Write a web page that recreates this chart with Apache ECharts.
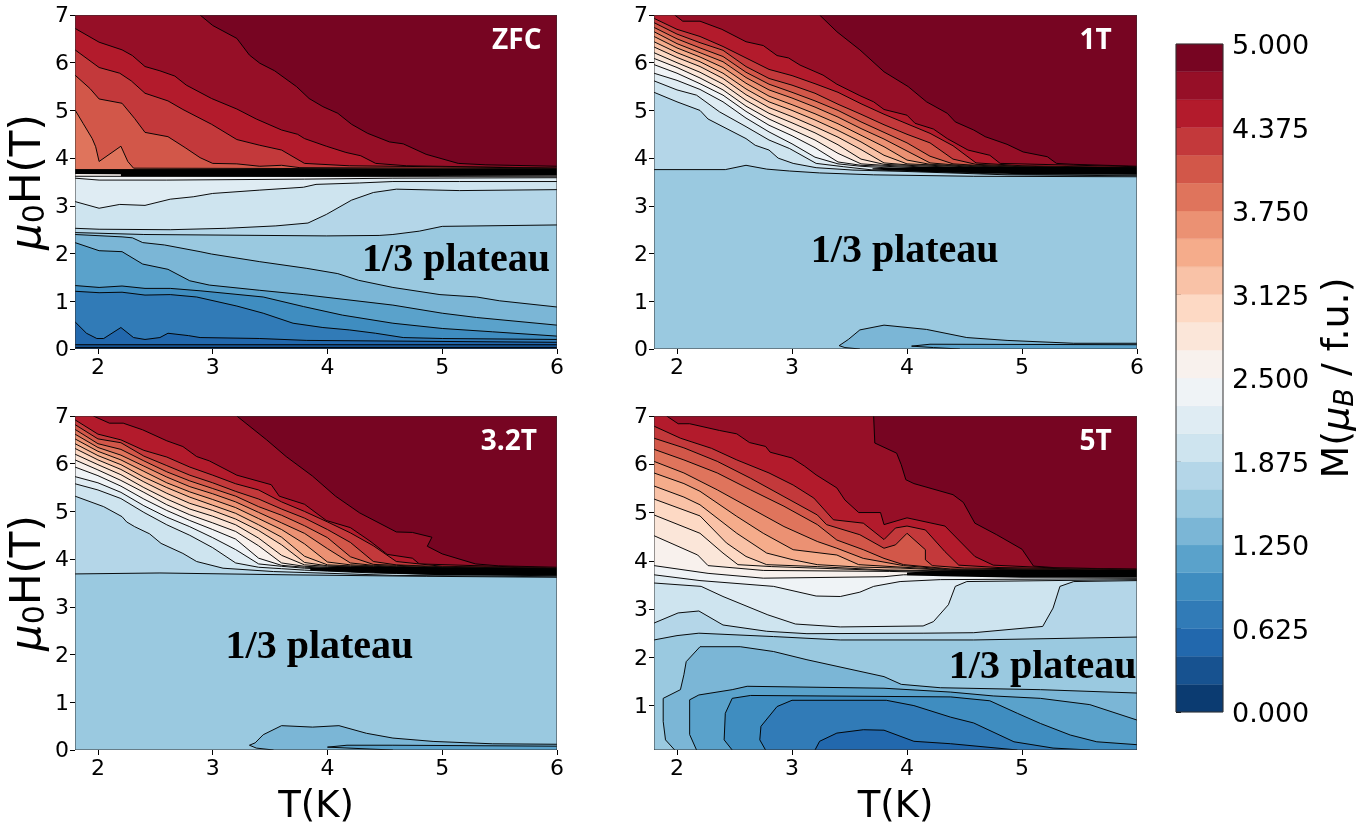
<!DOCTYPE html>
<html>
<head>
<meta charset="utf-8">
<style>html,body{margin:0;padding:0;background:#fff}#c{width:1370px;height:823px}</style>
<script src="https://cdn.jsdelivr.net/npm/echarts@6/dist/echarts.min.js"></script>
</head>
<body>
<div id="c"></div>
<script>
// ---------- data: [level, [[T, H], ...]] ----------
const levelCount = 24;
const xTicks = [2, 3, 4, 5, 6];
const xTicks5T = [2, 3, 4, 5];
const yTicks = [0, 1, 2, 3, 4, 5, 6, 7];
const yTicks5T = [1, 2, 3, 4, 5, 6, 7];
const panelNames = ['ZFC', '1T', '3.2T', '5T'];
const plateauText = '1/3 plateau';
const namePos = [[5.65, 6.46], [5.64, 6.46], [5.58, 6.46], [5.64, 6.46]];
const plateauPos = [[5.12, 1.85], [3.98, 2.03], [3.93, 2.15], [5.18, 1.79]];

const fanT = [1.8, 2, 2.2, 2.4, 2.6, 2.8, 3, 3.2, 3.4, 3.6, 3.8, 4, 4.2, 4.4, 4.6, 5, 6];

// where the contour lines crowd so tightly that they merge into solid black
const zfcCrowd = [[1.8,3.76],[6,3.78],[6,3.63],[3.6,3.62],[2.2,3.62],[2.2,3.66],[1.8,3.67]];
const oneTCrowd = [[3.7,3.79],[4.2,3.82],[5,3.82],[6,3.81],[6,3.65],[5,3.66],[4.2,3.71],[3.7,3.76]];
const threeTCrowd = [[3.85,3.82],[4.3,3.85],[5,3.83],[6,3.81],[6,3.65],[5,3.66],[4.3,3.72],[3.85,3.76]];
const fiveTCrowd = [[4,3.76],[4.3,3.8],[5,3.82],[6,3.81],[6,3.65],[5,3.65],[4.3,3.68],[4,3.7]];

const zfcContours = [
 [23, [[2.89,7],[3,6.78],[3.21,6.51],[3.32,6.16],[3.41,5.99],[3.54,5.83],[3.73,5.5],[3.84,5.25],[3.96,5.08],[4.09,4.94],[4.21,4.71],[4.35,4.52],[4.54,4.34],[4.66,4.3],[4.86,4.08],[5.14,3.89],[5.38,3.86],[6,3.83]]],
 [22, [[1.8,6.72],[2.01,6.43],[2.21,6.27],[2.3,6.15],[2.41,5.92],[2.54,5.83],[2.67,5.72],[2.77,5.53],[2.99,5.25],[3.21,5.03],[3.38,4.82],[3.6,4.59],[3.74,4.5],[3.8,4.41],[3.99,4.25],[4.16,4.12],[4.29,4.05],[4.42,3.89],[4.69,3.84],[6,3.79]]],
 [21, [[1.8,6.27],[2.01,5.9],[2.19,5.78],[2.29,5.62],[2.41,5.36],[2.61,5.2],[2.74,5.02],[2.99,4.71],[3.21,4.39],[3.41,4.27],[3.6,4.17],[3.8,3.89],[4.19,3.84],[6,3.79]]],
 [20, [[1.8,5.74],[1.93,5.46],[2.01,5.24],[2.21,5.15],[2.32,4.83],[2.41,4.54],[2.61,4.45],[2.76,4.22],[2.89,4.01],[3,3.89],[3.21,3.88],[3.41,3.83],[3.6,3.85],[3.76,3.8],[6,3.78]]],
 [19, [[1.8,5.01],[1.87,4.73],[1.95,4.41],[1.98,4.24],[2.01,3.93],[2.2,4.25],[2.26,3.93],[2.31,3.79],[6,3.77]]],
 [18, [[1.8,3.76],[6,3.76]]],
 [17, [[1.8,3.75],[6,3.75]]],
 [16, [[1.8,3.74],[6,3.74]]],
 [15, [[1.8,3.72],[6,3.72]]],
 [14, [[1.8,3.7],[6,3.7]]],
 [13, [[1.8,3.68],[6,3.68]]],
 [12, [[1.8,3.62],[6,3.61]]],
 [11, [[1.8,3.58],[2.01,3.54],[2.6,3.54],[3.8,3.56],[4.57,3.58],[6,3.59]]],
 [10, [[1.8,3.09],[2.01,2.95],[2.19,3.03],[2.41,3.01],[2.63,3.14],[2.83,3.19],[3,3.26],[3.41,3.33],[3.79,3.39],[3.9,3.45],[4.28,3.48],[4.57,3.51],[5.15,3.51],[6,3.51]]],
 [9, [[1.8,2.53],[2.01,2.51],[2.63,2.5],[3.12,2.53],[3.55,2.58],[3.83,2.64],[3.99,2.82],[4.21,3.12],[4.4,3.28],[4.6,3.35],[5.15,3.32],[6,3.34]]],
 [8, [[1.8,2.44],[2.4,2.4],[3.99,2.37],[4.45,2.38],[4.57,2.4],[4.8,2.47],[5,2.57],[6,2.6]]],
 [7, [[1.8,2.4],[2.21,2.35],[2.3,2.33],[2.39,2.23],[2.58,2.18],[2.89,2.04],[2.99,1.99],[3.41,1.83],[3.82,1.69],[4.09,1.58],[4.27,1.44],[4.57,1.29],[4.98,1.14],[5.3,1.09],[5.5,1.01],[6,0.88]]],
 [6, [[1.8,2.23],[2.01,2.06],[2.21,2.04],[2.39,1.78],[2.61,1.67],[2.8,1.43],[2.97,1.34],[3.41,1.23],[3.79,1.14],[4.57,0.92],[5,0.75],[5.3,0.66],[6,0.5]]],
 [5, [[1.8,1.33],[2.01,1.29],[2.21,1.32],[2.41,1.27],[2.63,1.27],[2.89,1.22],[3.44,1.09],[3.79,0.89],[4.13,0.71],[4.57,0.54],[5,0.43],[5.44,0.36],[6,0.27]]],
 [4, [[1.8,1.21],[2.01,1.18],[2.21,1.19],[2.41,1.13],[2.63,1.14],[2.86,1.09],[3.21,0.9],[3.44,0.75],[3.7,0.54],[3.96,0.45],[4.19,0.4],[4.42,0.33],[4.66,0.24],[5,0.22],[6,0.2]]],
 [3, [[1.8,0.57],[1.9,0.33],[1.99,0.22],[2.05,0.22],[2.2,0.45],[2.31,0.24],[2.41,0.2],[2.54,0.24],[2.61,0.33],[2.79,0.28],[2.89,0.24],[3.41,0.22],[3.82,0.18],[6,0.14]]],
 [2, [[1.8,0.09],[6,0.09]]],
 [1, [[1.8,0.03],[6,0.03]]]
];

const oneTEdges = [
 [23, [[3.24,7],[3.39,6.65],[3.59,6.27],[3.8,5.81],[4.01,5.5],[4.17,5.18],[4.35,4.94],[4.42,4.76],[4.58,4.59],[4.68,4.45],[4.87,4.29],[5.01,4.13],[5.22,4.03],[5.3,3.89],[5.45,3.87],[6,3.83]]],
 [22, [[1.98,7],[2.05,6.87],[2.2,6.87],[2.39,6.7],[2.6,6.44],[2.75,6.36],[2.87,6.15],[2.97,6.1],[3.07,5.95],[3.27,5.74],[3.39,5.55],[3.59,5.31],[3.71,5.18],[3.8,5.02],[4,4.9],[4.07,4.73],[4.23,4.61],[4.35,4.41],[4.53,4.17],[4.72,4.06],[4.81,3.89],[6,3.82]]]
];
const oneTFan = [
 [21, [6.93,6.70,6.55,6.34,6.10,5.86,5.73,5.56,5.38,5.14,4.92,4.72,4.52,4.26,3.90,3.84,3.80]],
 [20, [6.84,6.60,6.42,6.26,5.92,5.67,5.53,5.36,5.13,4.92,4.70,4.50,4.32,3.98,3.87,3.83,3.79]],
 [19, [6.74,6.50,6.31,6.13,5.80,5.55,5.38,5.20,5.00,4.76,4.54,4.32,4.04,3.88,3.85,3.82,3.78]],
 [18, [6.65,6.40,6.21,6.02,5.69,5.43,5.26,5.07,4.86,4.62,4.40,4.15,3.90,3.86,3.84,3.81,3.76]],
 [17, [6.55,6.31,6.12,5.90,5.57,5.30,5.12,4.93,4.72,4.48,4.24,3.96,3.87,3.85,3.83,3.80,3.75]],
 [16, [6.44,6.21,6.02,5.78,5.45,5.18,5.00,4.80,4.58,4.34,4.06,3.88,3.86,3.84,3.82,3.79,3.74]],
 [15, [6.33,6.11,5.92,5.67,5.33,5.06,4.87,4.66,4.44,4.18,3.90,3.86,3.85,3.83,3.81,3.78,3.72]],
 [14, [6.21,6.00,5.80,5.55,5.21,4.94,4.74,4.53,4.28,3.98,3.87,3.85,3.83,3.81,3.79,3.76,3.71]],
 [13, [6.09,5.90,5.68,5.43,5.09,4.82,4.60,4.38,4.10,3.88,3.85,3.83,3.81,3.79,3.77,3.74,3.70]],
 [12, [5.96,5.78,5.56,5.32,4.98,4.69,4.47,4.22,3.92,3.85,3.83,3.81,3.79,3.77,3.75,3.72,3.68]],
 [11, [5.78,5.63,5.44,5.18,4.84,4.55,4.30,4.02,3.88,3.83,3.80,3.78,3.76,3.74,3.72,3.70,3.67]]
];
const oneTLower = [
 [10, [[1.8,5.62],[2,5.43],[2.17,5.32],[2.37,4.97],[2.6,4.66],[2.8,4.38],[2.98,4.2],[3.21,3.89],[3.45,3.82],[3.71,3.75],[4.14,3.72],[4.87,3.66],[6,3.64]]],
 [9, [[1.8,5.38],[2,5.18],[2.2,5],[2.27,4.82],[2.6,4.41],[2.68,4.27],[2.8,4.17],[2.88,4],[3.01,3.89],[3.21,3.8],[3.53,3.75],[4,3.72],[4.87,3.65],[6,3.63]]],
 [8, [[1.8,3.76],[2.42,3.76],[2.6,3.85],[2.78,3.77],[2.98,3.73],[3.24,3.69],[3.71,3.65],[4.58,3.62],[6,3.61]]],
 [7, [[3.59,0],[3.46,0.03],[3.41,0.07],[3.49,0.2],[3.59,0.4],[3.8,0.5],[4.17,0.41],[4.52,0.24],[4.87,0.18],[5.45,0.12],[6,0.12]]],
 [6, [[4.46,0],[4.23,0.03],[4.04,0.06],[4.2,0.1],[6,0.09]]]
];

const threeTEdges = [
 [23, [[3.21,7],[3.47,6.5],[3.64,6.15],[3.87,5.74],[4.07,5.32],[4.28,4.97],[4.6,4.57],[4.74,4.56],[4.91,4.46],[4.87,4.27],[5,4.11],[5.29,3.9],[5.49,3.86],[6,3.83]]],
 [22, [[1.96,7],[2.1,6.85],[2.22,6.85],[2.39,6.71],[2.6,6.48],[2.74,6.36],[2.86,6.15],[2.97,6.06],[3.21,5.76],[3.51,5.56],[3.58,5.32],[3.8,5.15],[3.99,4.81],[4.2,4.66],[4.37,4.38],[4.52,4.1],[4.74,4.02],[4.8,3.9],[6,3.81]]]
];
const threeTFan = [
 [21, [6.92,6.62,6.50,6.28,6.14,5.93,5.76,5.58,5.45,5.20,5.00,4.78,4.55,4.28,3.95,3.85,3.81]],
 [20, [6.82,6.52,6.44,6.16,5.96,5.76,5.60,5.42,5.26,5.05,4.86,4.62,4.35,3.95,3.88,3.84,3.80]],
 [19, [6.72,6.42,6.30,6.06,5.83,5.64,5.48,5.32,5.10,4.92,4.70,4.45,4.05,3.89,3.87,3.83,3.79]],
 [18, [6.62,6.34,6.18,5.95,5.72,5.52,5.37,5.20,4.98,4.76,4.54,4.22,3.92,3.87,3.85,3.82,3.77]],
 [17, [6.52,6.26,6.08,5.84,5.60,5.41,5.25,5.08,4.85,4.62,4.32,3.94,3.88,3.86,3.84,3.81,3.76]],
 [16, [6.42,6.17,5.98,5.72,5.50,5.30,5.13,4.96,4.72,4.46,4.06,3.88,3.86,3.85,3.83,3.80,3.75]],
 [15, [6.32,6.08,5.88,5.62,5.38,5.17,5.02,4.84,4.60,4.30,3.93,3.86,3.85,3.83,3.82,3.79,3.73]],
 [14, [6.20,5.98,5.77,5.50,5.26,5.05,4.90,4.72,4.44,4.08,3.88,3.85,3.84,3.82,3.80,3.77,3.72]],
 [13, [6.08,5.87,5.65,5.40,5.14,4.93,4.76,4.58,4.28,3.92,3.85,3.83,3.81,3.80,3.78,3.75,3.70]],
 [12, [5.93,5.75,5.53,5.26,5.02,4.81,4.62,4.42,4.02,3.87,3.83,3.81,3.79,3.78,3.76,3.73,3.69]],
 [11, [5.73,5.60,5.40,5.12,4.88,4.68,4.45,4.20,3.90,3.85,3.81,3.79,3.77,3.75,3.73,3.71,3.67]],
 [10, [5.58,5.45,5.27,4.98,4.72,4.50,4.24,3.92,3.83,3.80,3.77,3.75,3.73,3.71,3.70,3.68,3.65]]
];
const threeTLower = [
 [9, [[1.8,5.32],[2.05,5.1],[2.21,4.89],[2.25,4.78],[2.32,4.68],[2.45,4.53],[2.55,4.33],[2.74,4.12],[2.86,3.95],[3.09,3.81],[3.53,3.74],[4.57,3.66],[6,3.63]]],
 [8, [[1.8,3.69],[2.54,3.71],[3.7,3.67],[4.86,3.64],[6,3.62]]],
 [7, [[3.53,0],[3.38,0.04],[3.32,0.1],[3.37,0.15],[3.44,0.32],[3.6,0.51],[3.87,0.48],[4.1,0.51],[4.34,0.35],[4.57,0.25],[4.92,0.18],[5.44,0.13],[6,0.12]]],
 [6, [[4.57,0],[4.37,0.02],[4,0.06],[4.17,0.1],[4.57,0.1],[6,0.08]]]
];

const fiveTContours = [
 [23, [[3.71,7],[3.72,6.44],[3.91,6.23],[3.95,5.99],[3.99,5.68],[4.06,5.6],[4.4,5.37],[4.49,5.21],[4.59,4.78],[4.78,4.54],[5,4.24],[5.1,3.89],[5.33,3.85],[6,3.83]]],
 [22, [[1.91,7],[2.01,6.84],[2.11,6.84],[2.37,6.7],[2.52,6.63],[2.63,6.45],[2.77,6.37],[2.81,6.25],[3,6.13],[3.11,5.96],[3.21,5.78],[3.39,5.51],[3.46,5.26],[3.58,5],[3.77,5],[3.8,4.75],[4,4.89],[4.33,4.72],[4.59,4.09],[4.75,3.91],[5.2,3.86],[6,3.82]]],
 [21, [[1.8,6.79],[2.03,6.54],[2.3,6.33],[2.52,6.09],[2.8,5.82],[3.01,5.57],[3.19,5.3],[3.36,4.85],[3.62,4.78],[3.8,4.44],[3.9,4.68],[4,4.72],[4.16,4.64],[4.33,4.19],[4.45,3.91],[4.8,3.86],[6,3.81]]],
 [20, [[1.8,6.54],[2.06,6.34],[2.35,6.06],[2.64,5.71],[2.93,5.33],[3.22,4.95],[3.3,4.75],[3.59,4.54],[3.8,4.26],[3.9,4.33],[4,4.57],[4.16,4.23],[4.16,4.02],[4.22,3.9],[4.5,3.85],[6,3.8]]],
 [19, [[1.8,6.31],[2.06,6.09],[2.35,5.82],[2.64,5.47],[2.93,5.13],[3.22,4.75],[3.39,4.43],[3.62,4.23],[3.8,4.05],[3.97,3.92],[4.38,3.83],[6,3.79]]],
 [18, [[1.8,6.06],[2.06,5.82],[2.35,5.47],[2.64,5.09],[2.93,4.71],[3.22,4.4],[3.39,4.26],[3.62,4.05],[3.97,3.9],[4.38,3.82],[6,3.78]]],
 [17, [[1.8,5.82],[2.06,5.6],[2.2,5.44],[2.52,4.92],[2.75,4.57],[3.01,4.23],[3.39,4.12],[3.58,3.92],[3.94,3.87],[4.4,3.81],[6,3.77]]],
 [16, [[1.8,5.55],[2.06,5.32],[2.2,5.16],[2.52,4.57],[2.78,4.16],[3.01,4.02],[3.22,3.92],[3.58,3.87],[3.94,3.85],[4.4,3.8],[6,3.76]]],
 [15, [[1.8,5.28],[2.2,4.93],[2.43,4.37],[2.6,4.09],[2.78,3.92],[3.22,3.88],[3.8,3.81],[4.4,3.79],[6,3.74]]],
 [14, [[1.8,4.95],[2.2,4.57],[2.4,4.16],[2.53,3.92],[2.82,3.88],[3.8,3.8],[4.4,3.77],[6,3.73]]],
 [13, [[1.8,4.52],[2.18,4.12],[2.27,3.9],[2.75,3.8],[3.85,3.78],[4.4,3.75],[6,3.71]]],
 [12, [[1.8,3.9],[2.27,3.74],[2.75,3.64],[3.8,3.67],[3.97,3.71],[4.4,3.71],[6,3.68]]],
 [11, [[1.8,3.71],[2.2,3.59],[2.84,3.47],[3.21,3.27],[3.42,3.26],[3.59,3.35],[3.71,3.47],[3.94,3.57],[4.29,3.61],[6,3.63]]],
 [10, [[1.8,3.54],[2.21,3.47],[2.4,3.26],[2.79,2.88],[3.03,2.69],[3.42,2.63],[4.14,2.65],[4.23,2.74],[4.36,3.09],[4.42,3.47],[4.52,3.57],[6,3.61]]],
 [9, [[1.8,2.71],[2.01,2.92],[2.19,2.96],[2.4,2.67],[2.78,2.54],[3.13,2.49],[4.14,2.5],[4.58,2.51],[5.18,2.64],[5.27,3.02],[5.33,3.47],[5.45,3.57],[6,3.59]]],
 [8, [[1.8,2.36],[2,2.45],[2.19,2.5],[2.84,2.43],[3.42,2.36],[4.58,2.36],[6,2.42]]],
 [7, [[1.98,0.08],[1.9,0.29],[1.88,0.67],[1.88,1.15],[2.03,1.33],[2.06,1.64],[2.08,1.91],[2.2,2.22],[2.55,2.22],[2.84,2.12],[3.13,1.95],[3.8,1.6],[3.95,1.44],[4.29,1.37],[5.16,1.33],[6,1.26]]],
 [6, [[2.17,0.08],[2.11,0.4],[2.11,1.12],[2.19,1.22],[2.48,1.33],[2.61,1.4],[3.8,1.36],[4.38,1.28],[4.75,1.2],[5.16,1.15],[5.59,1.02],[6,0.7]]],
 [5, [[2.48,0.08],[2.41,0.29],[2.42,0.84],[2.48,1.15],[2.64,1.21],[4.38,1.18],[4.72,1.1],[4.96,0.84],[5.16,0.63],[5.42,0.39],[5.65,0.25],[6,0.19]]],
 [4, [[2.77,0.08],[2.72,0.29],[2.73,0.57],[2.87,0.98],[3,1.11],[3.82,1.11],[4.06,1],[4.38,0.76],[4.58,0.64],[4.93,0.25],[5.27,0.12],[5.59,0.08]]],
 [3, [[3.2,0.08],[3.24,0.26],[3.39,0.43],[3.62,0.5],[3.8,0.49],[4.06,0.26],[4.38,0.21],[4.96,0.08]]]
];

// ---------- colours: matplotlib RdBu_r anchors ----------
const rdbuAnchors = ['#053061','#2166ac','#4393c3','#92c5de','#d1e5f0','#f7f7f7','#fddbc7','#f4a582','#d6604d','#b2182b','#67001f'];
function bandColor(i) {
  const t = (i + 0.5) / levelCount * (rdbuAnchors.length - 1);
  const a = Math.floor(t), f = t - a;
  const p = s => [1, 3, 5].map(k => parseInt(s.substr(k, 2), 16));
  const c0 = p(rdbuAnchors[a]), c1 = p(rdbuAnchors[Math.min(a + 1, rdbuAnchors.length - 1)]);
  return 'rgb(' + c0.map((v, k) => Math.round(v + (c1[k] - v) * f)).join(',') + ')';
}

const withFan = rows => rows.map(r => [r[0], r[1].map((h, i) => [fanT[i], h])]);
const panels = [
  { contours: zfcContours, crowd: zfcCrowd, xMin: 1.8, xMax: 6, yMin: 0, yMax: 7 },
  { contours: oneTEdges.concat(withFan(oneTFan), oneTLower), crowd: oneTCrowd, xMin: 1.8, xMax: 6, yMin: 0, yMax: 7 },
  { contours: threeTEdges.concat(withFan(threeTFan), threeTLower), crowd: threeTCrowd, xMin: 1.8, xMax: 6, yMin: 0, yMax: 7 },
  { contours: fiveTContours, crowd: fiveTCrowd, xMin: 1.8, xMax: 6, yMin: 0.08, yMax: 7 }
];
const grids = [
  { left: 75, top: 15, width: 482, height: 334, outerBoundsMode: 'none' },
  { left: 654, top: 15, width: 483, height: 334, outerBoundsMode: 'none' },
  { left: 75, top: 416, width: 482, height: 334, outerBoundsMode: 'none' },
  { left: 654, top: 416, width: 483, height: 334, outerBoundsMode: 'none' }
];
const FONT = 'DejaVu Sans';
const muRich = {
  n: { fontFamily: FONT, fontSize: 38, color: '#000' },
  mu: { fontFamily: FONT, fontSize: 38, fontStyle: 'italic', color: '#000' },
  sub: { fontFamily: FONT, fontSize: 27, color: '#000', padding: [14, 0, 0, 0] },
  subi: { fontFamily: FONT, fontSize: 27, fontStyle: 'italic', color: '#000', padding: [14, 0, 0, 0] }
};
const yRich = {
  n: { fontFamily: FONT, fontSize: 42, color: '#000' },
  mu: { fontFamily: FONT, fontSize: 42, fontStyle: 'italic', color: '#000' },
  sub: { fontFamily: FONT, fontSize: 30, color: '#000', padding: [15, 0, 0, 0] }
};

function panelRender(panel, idx) {
  return function (params, api) {
    const i = params.dataIndex;
    const cs = params.coordSys;
    if (i === 0) {
      return { type: 'rect', shape: { x: cs.x, y: cs.y, width: cs.width, height: cs.height }, style: { fill: bandColor(levelCount - 1) } };
    }
    if (i === panel.contours.length + 1) {
      return { type: 'group', children: [
        { type: 'polygon', shape: { points: panel.crowd.map(p => api.coord(p)) }, style: { fill: '#000' } },
        { type: 'rect', shape: { x: cs.x, y: cs.y, width: cs.width, height: cs.height }, style: { fill: 'none', stroke: '#333', lineWidth: 1 } },
        { type: 'text', x: api.coord(namePos[idx])[0], y: api.coord(namePos[idx])[1],
          style: { text: panelNames[idx], fill: '#fff', font: 'bold 28px "Open Sans"', align: 'center', verticalAlign: 'middle' } },
        { type: 'text', x: api.coord(plateauPos[idx])[0], y: api.coord(plateauPos[idx])[1],
          style: { text: plateauText, fill: '#000', font: 'bold 40px "Liberation Serif"', align: 'center', verticalAlign: 'middle' } }
      ] };
    }
    const c = panel.contours[i - 1];
    const level = c[0], pts = c[1];
    const first = pts[0];
    const fill = pts.slice();
    fill.push([panel.xMax, panel.yMin]);
    if (first[1] > panel.yMin + 0.001) {
      fill.push([panel.xMin, panel.yMin]);
      fill.push([panel.xMin, first[1]]);
    }
    return { type: 'group', children: [
      { type: 'polygon', shape: { points: fill.map(p => api.coord(p)) }, style: { fill: bandColor(level - 1), stroke: bandColor(level - 1), lineWidth: 0.3 } },
      { type: 'polyline', shape: { points: pts.map(p => api.coord(p)) }, style: { fill: 'none', stroke: '#000', lineWidth: 0.95 } }
    ] };
  };
}

const xAxes = panels.map((p, i) => ({
  gridIndex: i, type: 'value', min: p.xMin, max: p.xMax, splitLine: { show: false },
  axisLine: { show: false },
  axisTick: { show: true, length: 5, lineStyle: { color: '#000' }, customValues: i === 3 ? xTicks5T : xTicks },
  axisLabel: { fontFamily: FONT, fontSize: 22, color: '#000', margin: 8, customValues: i === 3 ? xTicks5T : xTicks },
  name: i >= 2 ? 'T(K)' : '', nameLocation: 'middle', nameGap: 39,
  nameTextStyle: { fontFamily: FONT, fontSize: 37, color: '#000' }
}));
const yAxes = panels.map((p, i) => ({
  gridIndex: i, type: 'value', min: p.yMin, max: p.yMax, splitLine: { show: false },
  axisLine: { show: false },
  axisTick: { show: true, length: 5, lineStyle: { color: '#000' }, customValues: i === 3 ? yTicks5T : yTicks },
  axisLabel: { color: '#000', margin: 6, customValues: i === 3 ? yTicks5T : yTicks,
    formatter: v => '{a|' + v + '}',
    rich: { a: { fontFamily: FONT, fontSize: 22, color: '#000', padding: [3, 0, 0, 0] } } },
  name: (i % 2 === 0) ? '{mu|μ}{sub|0}{n|H(T)}' : '', nameLocation: 'middle', nameGap: 22,
  nameTextStyle: { rich: yRich }
}));

const series = panels.map((p, i) => ({
  type: 'custom', xAxisIndex: i, yAxisIndex: i, silent: true, animation: false, clip: true,
  data: Array.from({ length: p.contours.length + 2 }, (_, k) => [k]),
  encode: { x: [], y: [] },
  renderItem: panelRender(p, i)
}));

// colour bar
grids.push({ left: 1176, top: 44, width: 47, height: 668, outerBoundsMode: 'none' });
xAxes.push({ gridIndex: 4, type: 'value', min: 0, max: 1, show: false });
yAxes.push({
  gridIndex: 4, type: 'value', min: 0, max: 5, interval: 0.625, position: 'right',
  splitLine: { show: false }, axisLine: { show: false },
  axisTick: { show: true, length: 5, lineStyle: { color: '#000' } },
  axisLabel: { color: '#000', margin: 9, formatter: v => '{a|' + v.toFixed(3) + '}',
    rich: { a: { fontFamily: FONT, fontSize: 27, color: '#000', padding: [6, 0, 0, 0] } } },
  name: '{n|M(}{mu|μ}{subi|B}{n| / f.u.)}', nameLocation: 'middle', nameGap: 95, nameRotate: 90,
  nameTextStyle: { rich: muRich }
});
series.push({
  type: 'custom', xAxisIndex: 4, yAxisIndex: 4, silent: true, animation: false,
  data: Array.from({ length: levelCount + 1 }, (_, k) => [k]),
  encode: { x: [], y: [] },
  renderItem: function (params, api) {
    const i = params.dataIndex, cs = params.coordSys;
    if (i === levelCount) return { type: 'rect', shape: { x: cs.x, y: cs.y, width: cs.width, height: cs.height }, style: { fill: 'none', stroke: '#333', lineWidth: 1 } };
    const y0 = api.coord([0, i * 5 / levelCount]), y1 = api.coord([1, (i + 1) * 5 / levelCount]);
    return { type: 'rect', shape: { x: y0[0], y: y1[1], width: y1[0] - y0[0], height: y0[1] - y1[1] }, style: { fill: bandColor(i), stroke: bandColor(i), lineWidth: 0.3 } };
  }
});

const chart = echarts.init(document.getElementById('c'), null, { renderer: 'canvas' });
chart.setOption({ animation: false, backgroundColor: '#fff', grid: grids, xAxis: xAxes, yAxis: yAxes, series: series });
</script>
</body>
</html>
